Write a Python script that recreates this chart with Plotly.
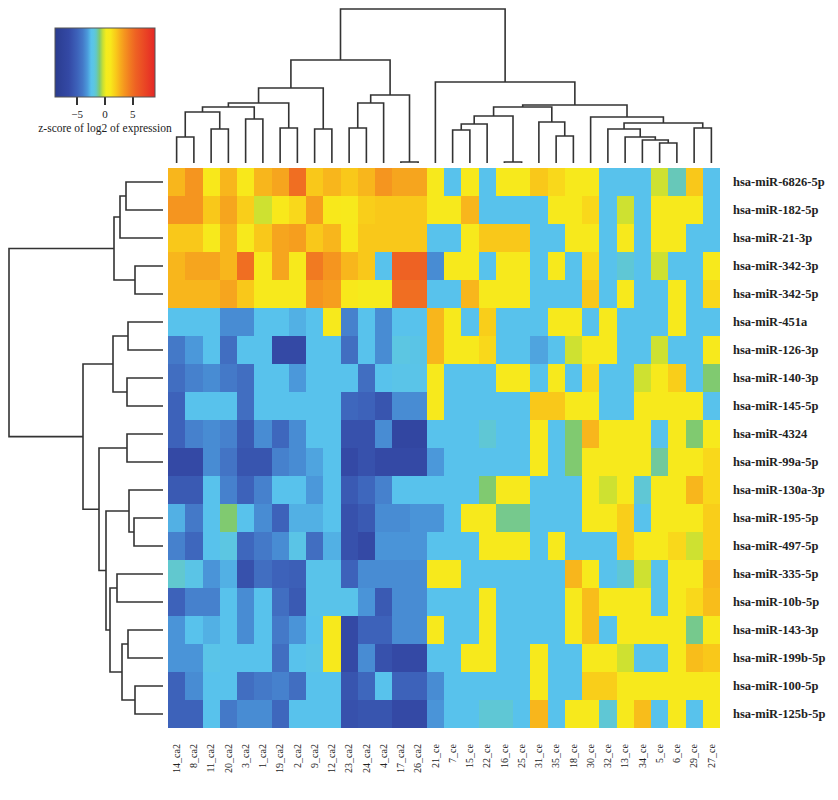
import plotly.graph_objects as go

# ---------------- data ----------------
col_labels = ["14_ca2", "8_ca2", "11_ca2", "20_ca2", "3_ca2", "1_ca2", "19_ca2", "2_ca2",
              "9_ca2", "12_ca2", "23_ca2", "24_ca2", "4_ca2", "17_ca2", "26_ca2",
              "21_ce", "7_ce", "15_ce", "22_ce", "16_ce", "25_ce", "31_ce", "35_ce", "18_ce",
              "30_ce", "32_ce", "13_ce", "34_ce", "5_ce", "6_ce", "29_ce", "27_ce"]

row_labels = ["hsa-miR-6826-5p", "hsa-miR-182-5p", "hsa-miR-21-3p", "hsa-miR-342-3p",
              "hsa-miR-342-5p", "hsa-miR-451a", "hsa-miR-126-3p", "hsa-miR-140-3p",
              "hsa-miR-145-5p", "hsa-miR-4324", "hsa-miR-99a-5p", "hsa-miR-130a-3p",
              "hsa-miR-195-5p", "hsa-miR-497-5p", "hsa-miR-335-5p", "hsa-miR-10b-5p",
              "hsa-miR-143-3p", "hsa-miR-199b-5p", "hsa-miR-100-5p", "hsa-miR-125b-5p"]

# z-scores per miRNA (columns in the order of col_labels)
mir_6826_5p = [2.5, 3.5, 1.0, 2.5, 1.0, 2.5, 3.0, 5.0, 2.0, 2.5, 2.0, 2.5, 3.5, 3.0, 3.0, 0.8,
               -2.5, 0.8, -2.5, 0.8, 0.8, 2.0, 1.5, 0.8, 0.8, -2.5, -2.5, -2.5, -0.3, -1.5, 2.0, -2.5]
mir_182_5p = [3.5, 3.5, 2.0, 3.0, 1.8, -0.3, 1.0, 1.5, 3.2, 1.0, 0.8, 1.8, 2.0, 2.0, 2.0, 0.8,
              0.8, 2.5, -2.5, -2.5, -2.5, -2.5, 0.8, 0.8, 1.5, -2.5, -0.3, -2.5, 0.8, 0.8, 0.8, -2.5]
mir_21_3p = [2.0, 2.0, 0.8, 2.5, 0.8, 2.0, 3.0, 3.2, 2.0, 2.5, 1.0, 2.0, 2.0, 2.0, 2.0, -2.5,
             -2.5, 0.8, 2.0, 2.0, 2.0, -2.5, -2.5, 0.8, 0.8, -2.5, 0.8, -2.5, 0.8, 0.8, -2.5, -2.5]
mir_342_3p = [2.5, 3.0, 3.0, 2.5, 5.0, 0.8, 3.0, 0.8, 4.5, 3.5, 2.5, 2.0, -2.5, 5.5, 5.5, -3.5,
              0.8, 0.8, -2.5, 0.8, 0.8, -2.5, 0.8, -2.5, 1.5, -2.5, -1.8, -2.5, -0.3, -2.5, -2.5, 0.8]
mir_342_5p = [2.5, 2.5, 2.5, 3.0, 2.0, 0.8, 0.8, 0.8, 3.5, 3.2, 1.0, 0.5, 0.5, 5.0, 5.0, -2.5,
              -2.5, 2.5, 0.8, 0.8, 0.8, -2.5, -2.5, -2.5, 2.0, -2.5, 0.8, -2.5, -2.5, 0.8, -2.5, 1.5]
mir_451a = [-2.5, -2.5, -2.5, -3.5, -3.5, -2.5, -2.5, -2.8, -2.5, 0.8, -3.8, -2.5, -3.5, -2.5, -2.5, 2.5,
            0.8, -2.5, 1.8, -2.5, -2.5, -2.5, 0.8, 0.8, -2.5, 0.8, -2.5, -2.5, -2.5, 0.8, -2.5, -2.5]
mir_126_3p = [-4.0, -3.2, -2.5, -4.5, -2.5, -2.5, -6.5, -6.5, -2.5, -2.5, -4.5, -2.5, -3.5, -2.0, -2.2, 2.5,
              0.8, 0.8, 1.5, -2.5, -2.5, -3.0, -2.5, -0.3, 0.8, 0.8, -2.5, -2.5, -0.3, -2.5, -2.5, 0.8]
mir_140_3p = [-4.5, -3.8, -3.5, -4.0, -4.5, -2.5, -2.5, -3.2, -2.5, -2.5, -2.5, -4.5, -2.5, -2.3, -2.3, 0.8,
              -2.5, -2.5, -2.5, 0.8, 0.8, -2.5, 0.8, -2.5, 1.5, -2.5, -2.5, -0.3, 0.8, 1.8, -2.5, -1.0]
mir_145_5p = [-5.0, -2.5, -2.5, -2.5, -4.5, -2.5, -2.5, -2.5, -2.5, -2.5, -4.8, -5.0, -5.8, -3.5, -3.5, 0.8,
              -2.5, -2.5, -2.5, -2.5, -2.5, 2.0, 2.0, 0.8, 0.8, -2.5, -2.5, 0.8, 0.8, 0.8, 0.8, -2.5]
mir_4324 = [-5.0, -3.8, -3.5, -3.8, -5.5, -3.5, -4.8, -3.5, -2.5, -2.5, -6.0, -6.0, -3.5, -7.0, -7.0, -2.5,
            -2.5, -2.5, -1.8, -2.5, -2.5, 0.8, -2.5, -1.0, 2.5, 0.8, 0.8, 0.8, -2.5, 0.8, -1.0, 0.8]
mir_99a_5p = [-6.5, -6.5, -3.5, -4.2, -5.8, -5.8, -3.8, -3.5, -3.0, -2.5, -6.5, -6.0, -6.5, -6.5, -6.5, -3.2,
              -2.5, -2.5, -2.5, -2.5, -2.5, 0.8, -2.5, -1.0, 0.8, 0.8, 0.8, 0.8, -1.3, 0.8, 0.8, 1.5]
mir_130a_3p = [-5.5, -5.5, -2.5, -3.8, -5.0, -3.8, -2.5, -2.5, -3.2, -2.5, -5.5, -4.8, -3.8, -2.5, -2.5, -2.5,
               -2.5, -2.5, -1.0, 0.8, 0.8, -2.5, -2.5, -2.5, 0.8, -0.3, 0.8, -1.8, 0.8, 0.8, 2.5, 1.5]
mir_195_5p = [-2.8, -4.0, -2.5, -1.0, -2.5, -3.5, -5.0, -2.8, -2.8, -2.5, -6.0, -5.5, -3.5, -3.5, -3.3, -3.3,
              -2.5, 0.8, 0.8, -1.2, -1.2, -2.5, -2.5, -2.5, 0.8, 0.8, 1.8, -2.5, 0.8, 0.8, 0.8, 1.8]
mir_497_5p = [-3.8, -4.8, -2.5, -2.0, -4.8, -4.0, -3.5, -2.2, -4.5, -2.8, -6.0, -6.5, -3.3, -3.3, -3.3, -2.5,
              -2.5, -2.5, 0.8, 0.8, 0.8, -2.5, 0.8, -2.5, -2.5, -2.5, 1.8, 0.8, 0.8, 1.5, -0.3, 1.8]
mir_335_5p = [-1.7, -2.2, -3.3, -2.8, -6.0, -4.5, -5.0, -5.2, -2.4, -2.4, -5.0, -3.5, -3.5, -3.5, -3.5, 0.8,
              0.8, -2.5, -2.5, -2.5, -2.5, -2.5, -2.5, 2.5, 0.8, -2.5, -1.8, -0.3, -2.5, 0.8, 0.8, 2.5]
mir_10b_5p = [-5.0, -3.8, -3.8, -2.5, -3.5, -2.5, -4.5, -5.5, -2.4, -2.4, -2.4, -3.3, -5.5, -3.5, -3.5, -2.5,
              -2.5, -2.5, 0.8, -2.5, -2.5, -2.5, -2.5, 0.8, 2.3, 0.8, 0.8, 0.8, -2.5, 0.8, 1.5, 2.3]
mir_143_3p = [-3.3, -2.5, -2.8, -2.5, -3.5, -2.5, -4.0, -3.3, -2.5, 0.8, -6.5, -5.0, -5.0, -3.5, -3.5, 0.8,
              -2.5, -2.5, 0.8, -2.5, -2.5, -2.5, -2.5, 0.8, 2.3, -2.5, 0.8, 0.8, 0.8, 0.8, -1.2, 0.8]
mir_199b_5p = [-3.3, -3.3, -2.3, -2.5, -2.5, -2.5, -4.5, -2.5, -2.3, 0.8, -6.5, -3.5, -6.0, -6.5, -6.5, -2.5,
               -2.5, 0.8, 0.8, -2.5, -2.5, 0.8, -2.5, -2.5, 0.8, 0.8, -0.3, -2.5, -2.5, 0.8, 2.3, 2.0]
mir_100_5p = [-5.0, -3.5, -2.5, -2.5, -4.5, -4.0, -3.8, -4.5, -2.5, -2.5, -5.8, -4.8, -2.5, -5.0, -5.0, -3.5,
              -2.5, -2.5, -2.5, -2.5, -2.5, 0.8, -2.5, -2.5, 1.8, 1.8, 0.8, 0.8, 0.8, 0.8, 0.8, 0.8]
mir_125b_5p = [-5.0, -5.0, -2.5, -4.0, -3.5, -3.5, -4.8, -2.5, -2.5, -2.5, -6.0, -5.8, -5.8, -6.5, -6.5, -3.3,
               -2.5, -2.5, -1.8, -1.8, -2.5, 2.5, -2.5, 0.8, 0.8, -1.8, 0.8, 2.3, -2.5, 0.8, -2.5, 0.8]

# Column dendrogram: (child_a, child_b, height); leaf = column index >= 0, merge j = -(j+1)
col_merges = [
    (0, 1, 26), (2, 3, 34), (-1, -2, 51), (4, 5, 44), (-3, -4, 56), (6, 7, 35),
    (-5, -6, 60), (8, 9, 34), (-7, -8, 75), (10, 11, 35), (-10, 12, 60), (13, 14, 1),
    (-11, -12, 68), (-9, -13, 103), (16, 17, 33), (-15, 18, 39), (19, 20, 1),
    (-16, -17, 47), (22, 23, 27), (21, -19, 41), (-18, -20, 56), (28, 29, 20),
    (27, -22, 23), (26, -23, 26), (25, -24, 34), (30, 31, 35), (-25, -26, 40),
    (24, -27, 46), (-21, -28, 58), (15, -29, 81), (-14, -30, 154),
]
# Row dendrogram
row_merges = [
    (0, 1, 37), (-1, 2, 43), (3, 4, 28), (-2, -3, 49), (5, 6, 35), (7, 8, 36),
    (-5, -6, 50), (9, 10, 36), (12, 13, 29), (11, -9, 34), (14, 15, 46), (16, 17, 35),
    (18, 19, 28), (-12, -13, 41), (-11, -14, 53), (-10, -15, 57), (-8, -16, 64),
    (-7, -17, 80), (-4, -18, 154),
]

colorbar_ticks = [-5, 0, 5]
z_min, z_max = -9, 9

# ---------------- build ----------------
z = [mir_6826_5p, mir_182_5p, mir_21_3p, mir_342_3p, mir_342_5p, mir_451a, mir_126_3p,
     mir_140_3p, mir_145_5p, mir_4324, mir_99a_5p, mir_130a_3p, mir_195_5p, mir_497_5p,
     mir_335_5p, mir_10b_5p, mir_143_3p, mir_199b_5p, mir_100_5p, mir_125b_5p]

stops = [(-9, "#2a3c8f"), (-6.5, "#3449a5"), (-5, "#3d62ba"), (-4, "#4479c8"),
         (-3.2, "#4b98da"), (-2.5, "#58c2ec"), (-2.0, "#5cc6e2"), (-1.6, "#62c8c8"),
         (-1.0, "#80ca70"), (-0.4, "#c6df35"), (0.2, "#f3ec1d"), (1.0, "#f8e81b"),
         (2.0, "#f9c81a"), (2.8, "#f7ab1d"), (3.5, "#f5951f"), (4.5, "#f17a21"),
         (5.5, "#ee6223"), (9, "#e52726")]
colorscale = [[(v - z_min) / (z_max - z_min), c] for v, c in stops]


def dendro(merges):
    pos, hgt = {}, {}
    a_list, h_list = [], []

    def get(n):
        if n >= 0:
            return float(n), 0.0
        j = -n - 1
        return pos[j], hgt[j]

    for j, (a, b, h) in enumerate(merges):
        pa, ha = get(a)
        pb, hb = get(b)
        a_list += [pa, pa, pb, pb, None]
        h_list += [ha, h, h, hb, None]
        pos[j] = (pa + pb) / 2
        hgt[j] = h
    return a_list, h_list


# the page has an 8px body margin: lay out in window pixels, then convert
WIN_W, WIN_H, OFF = 838, 800, 8
W, H = WIN_W - OFF, WIN_H - OFF


def px(x):
    return min(max((x - OFF) / W, 0.0), 1.0)


def py(y):
    return min(max((WIN_H - y) / H, 0.0), 1.0)


hx0, hx1 = px(168), px(720)
hy0, hy1 = py(728), py(168)
serif = "Liberation Serif, Times New Roman, serif"
line_col = "#333333"
leaf_edge = 163           # window px where dendrogram leaves end
dendro_span = leaf_edge - OFF

fig = go.Figure()
fig.add_trace(go.Heatmap(
    z=z, x=list(range(len(col_labels))), y=list(range(len(row_labels))),
    colorscale=colorscale, zmin=z_min, zmax=z_max,
    colorbar=dict(orientation="h", x=px(105), xanchor="center", y=py(28), yanchor="top",
                  len=100, lenmode="pixels", thickness=69, xpad=0, ypad=0,
                  outlinewidth=1, outlinecolor="#555555",
                  tickvals=colorbar_ticks, ticks="outside", ticklen=8, tickcolor="#333",
                  tickwidth=1.5,
                  tickfont=dict(family=serif, size=11, color="#222"),
                  title=dict(text="z-score of log2 of expression", side="bottom",
                             font=dict(family=serif, size=11.5, color="#222"))),
    hoverinfo="skip", xaxis="x", yaxis="y"))

cx, ch = dendro(col_merges)
fig.add_trace(go.Scatter(x=cx, y=ch, mode="lines", line=dict(color=line_col, width=1.6),
                         xaxis="x2", yaxis="y2", hoverinfo="skip", showlegend=False,
                         cliponaxis=False))
rx, rh = dendro(row_merges)
fig.add_trace(go.Scatter(x=rh, y=rx, mode="lines", line=dict(color=line_col, width=1.6),
                         xaxis="x3", yaxis="y3", hoverinfo="skip", showlegend=False,
                         cliponaxis=False))

hidden = dict(showgrid=False, zeroline=False, showticklabels=False, ticks="", showline=False)
fig.update_layout(
    width=W, height=H, autosize=False, margin=dict(l=0, r=0, t=0, b=0),
    paper_bgcolor="white", plot_bgcolor="white", showlegend=False,
    xaxis=dict(domain=[hx0, hx1], range=[-0.5, len(col_labels) - 0.5], anchor="y",
               tickvals=list(range(len(col_labels))), ticktext=col_labels, tickangle=-90,
               tickfont=dict(family=serif, size=10, color="#222"), ticks="",
               ticklabelstandoff=13, showgrid=False, zeroline=False),
    yaxis=dict(domain=[hy0, hy1], range=[len(row_labels) - 0.5, -0.5], anchor="x", side="right",
               tickvals=list(range(len(row_labels))), ticktext=row_labels,
               tickfont=dict(family=serif, size=12.5, color="#222", weight="bold"), ticks="",
               ticklabelstandoff=12, showgrid=False, zeroline=False),
    xaxis2=dict(domain=[hx0, hx1], range=[-0.5, len(col_labels) - 0.5], anchor="y2", **hidden),
    yaxis2=dict(domain=[py(leaf_edge), 1.0], range=[0, dendro_span], anchor="x2", **hidden),
    xaxis3=dict(domain=[0.0, px(leaf_edge)], range=[dendro_span, 0], anchor="y3", **hidden),
    yaxis3=dict(domain=[hy0, hy1], range=[len(row_labels) - 0.5, -0.5], anchor="x3", **hidden),
)

fig.write_html("out.html")
